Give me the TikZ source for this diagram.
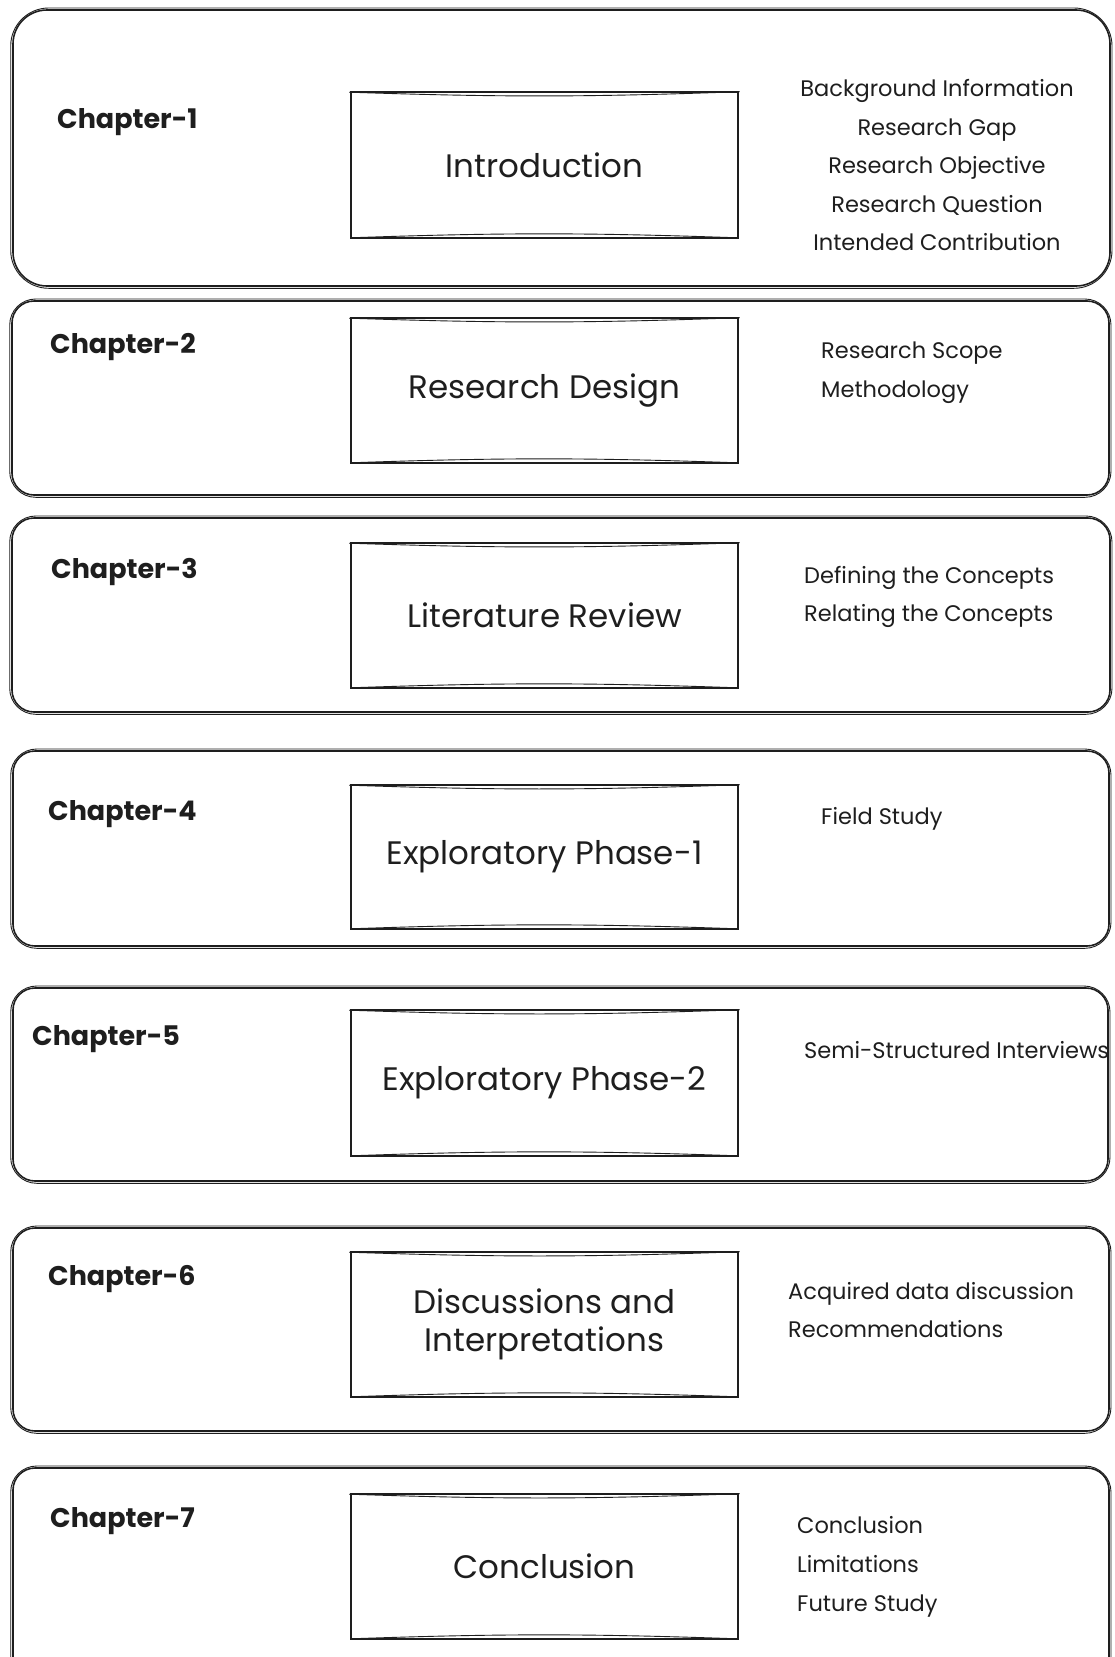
\documentclass[tikz,border=0pt]{standalone}
\usepackage{fontspec}
\setmainfont{Poppins}
\definecolor{ink}{HTML}{1E1E1E}
\newcommand\ChapFont{\fontsize{27}{32}\bfseries\selectfont}
\newcommand\MidFont{\fontsize{32.5}{38}\selectfont}
\newcommand\ItemFont{\fontsize{22.5}{27}\selectfont}
% second, lighter stroke that gives the boxes their hand-drawn look
\newcommand\roughouter[2]{%
  \draw[sketch, rounded corners=#2] ([shift={(-1.5,-1.2)}]#1.north west) rectangle ([shift={(1.2,1.5)}]#1.south east);}
\newcommand\roughinner[1]{%
  \draw[sketch] ([shift={(-1,1)}]#1.north west) to[bend right=2] ([shift={(1,0.5)}]#1.north east);
  \draw[sketch] ([shift={(0,-1)}]#1.south west) to[bend left=2] ([shift={(-1,-1)}]#1.south east);}
\begin{document}
\begin{tikzpicture}[x=1pt,y=-1pt,
  every node/.style={text=ink},
  outerbox/.style={draw=ink, line width=1.6pt, inner sep=0pt},
  innerbox/.style={draw=ink, line width=1.6pt, minimum width=387pt, minimum height=146pt,
    inner sep=0pt, align=center, font=\MidFont},
  sketch/.style={draw=ink, line width=0.9pt},
  chaplabel/.style={anchor=base west, inner sep=0pt, font=\ChapFont},
  itemtext/.style={anchor=base west, inner sep=0pt, font=\ItemFont},
]
\clip (0,0) rectangle (1115,1657);
\fill[white] (0,0) rectangle (1115,1657);

% ---------- Chapter 1 ----------
\node[outerbox, rounded corners=34pt, minimum width=1097pt, minimum height=276pt] (ch1) at (561.5,148) {};
\roughouter{ch1}{38pt}
\node[chaplabel] (lab1) at (57,128) {Chapter-1};
\node[innerbox, minimum height=146pt] (in1) at (544.5,165) {Introduction};
\roughinner{in1}
\node[itemtext, anchor=base] (it1a) at (937,96) {Background Information};
\node[itemtext, anchor=base] (it1b) at (937,135) {Research Gap};
\node[itemtext, anchor=base] (it1c) at (937,173) {Research Objective};
\node[itemtext, anchor=base] (it1d) at (937,212) {Research Question};
\node[itemtext, anchor=base] (it1e) at (937,250) {Intended Contribution};

% ---------- Chapter 2 ----------
\node[outerbox, rounded corners=22pt, minimum width=1097pt, minimum height=194pt] (ch2) at (560.5,398) {};
\roughouter{ch2}{26pt}
\node[chaplabel] (lab2) at (50,353) {Chapter-2};
\node[innerbox, minimum height=145pt] (in2) at (544.5,390.5) {Research Design};
\roughinner{in2}
\node[itemtext] (it2a) at (821,358) {Research Scope};
\node[itemtext] (it2b) at (821,397) {Methodology};

% ---------- Chapter 3 ----------
\node[outerbox, rounded corners=22pt, minimum width=1098pt, minimum height=194pt] (ch3) at (561,615) {};
\roughouter{ch3}{26pt}
\node[chaplabel] (lab3) at (51,578) {Chapter-3};
\node[innerbox, minimum height=145pt] (in3) at (544.5,615.5) {Literature Review};
\roughinner{in3}
\node[itemtext] (it3a) at (804,583) {Defining the Concepts};
\node[itemtext] (it3b) at (804,621) {Relating the Concepts};

% ---------- Chapter 4 ----------
\node[outerbox, rounded corners=22pt, minimum width=1096pt, minimum height=195pt] (ch4) at (561,848.5) {};
\roughouter{ch4}{26pt}
\node[chaplabel] (lab4) at (48,820) {Chapter-4};
\node[innerbox, minimum height=144pt] (in4) at (544.5,857) {Exploratory Phase-1};
\roughinner{in4}
\node[itemtext] (it4a) at (821,824) {Field Study};

% ---------- Chapter 5 ----------
\node[outerbox, rounded corners=22pt, minimum width=1095pt, minimum height=193pt] (ch5) at (560.5,1084.5) {};
\roughouter{ch5}{26pt}
\node[chaplabel] (lab5) at (32,1045) {Chapter-5};
\node[innerbox, minimum height=146pt] (in5) at (544.5,1083) {Exploratory Phase-2};
\roughinner{in5}
\node[itemtext] (it5a) at (804,1058) {Semi-Structured Interviews};

% ---------- Chapter 6 ----------
\node[outerbox, rounded corners=22pt, minimum width=1096pt, minimum height=203pt] (ch6) at (561,1329.5) {};
\roughouter{ch6}{26pt}
\node[chaplabel] (lab6) at (48,1285) {Chapter-6};
\node[innerbox, minimum height=145pt] (in6) at (544.5,1324.5) {Discussions and\\Interpretations};
\roughinner{in6}
\node[itemtext] (it6a) at (788,1299) {Acquired data discussion};
\node[itemtext] (it6b) at (788,1337) {Recommendations};

% ---------- Chapter 7 ----------
\node[outerbox, rounded corners=22pt, minimum width=1096pt, minimum height=232pt] (ch7) at (561,1584) {};
\roughouter{ch7}{26pt}
\node[chaplabel] (lab7) at (50,1527) {Chapter-7};
\node[innerbox, minimum height=145pt] (in7) at (544.5,1566.5) {Conclusion};
\roughinner{in7}
\node[itemtext] (it7a) at (797,1533) {Conclusion};
\node[itemtext] (it7b) at (797,1572) {Limitations};
\node[itemtext] (it7c) at (797,1611) {Future Study};
\end{tikzpicture}
\end{document}
